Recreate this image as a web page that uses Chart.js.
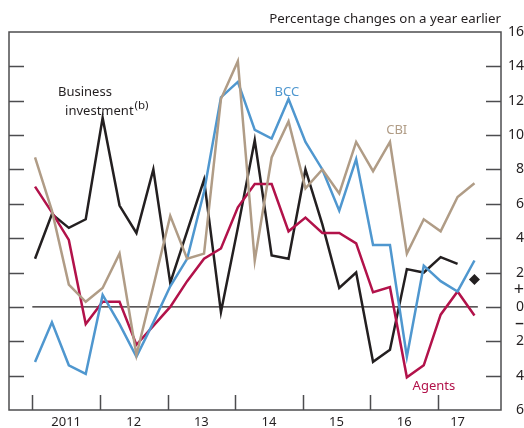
<!DOCTYPE html>
<html>
<head>
<meta charset="utf-8">
<script src="https://cdn.jsdelivr.net/npm/chart.js@4.4.0/dist/chart.umd.min.js"></script>
<style>
  html, body { margin: 0; padding: 0; background: #fff; }
</style>
</head>
<body>
<canvas id="chart" width="524" height="428"></canvas>
<script>
// quarterly data, 2011 Q1 to 2017 Q3 (index 0 = 2011 Q1)
var quarters = ['2011 Q1','2011 Q2','2011 Q3','2011 Q4','2012 Q1','2012 Q2','2012 Q3','2012 Q4',
  '2013 Q1','2013 Q2','2013 Q3','2013 Q4','2014 Q1','2014 Q2','2014 Q3','2014 Q4',
  '2015 Q1','2015 Q2','2015 Q3','2015 Q4','2016 Q1','2016 Q2','2016 Q3','2016 Q4',
  '2017 Q1','2017 Q2','2017 Q3'];

var investment = [2.8, 5.4, 4.6, 5.1, 11.0, 5.9, 4.3, 8.0, 1.4, 4.4, 7.4, -0.3, 4.6, 9.7,
  3.0, 2.8, 8.0, 4.8, 1.1, 2.0, -3.2, -2.5, 2.2, 2.0, 2.9, 2.5];
var bcc = [-3.2, -0.9, -3.4, -3.9, 0.7, -1.0, -2.9, -0.9, 1.2, 2.8, 6.7, 12.2, 13.1, 10.3,
  9.8, 12.1, 9.6, 8.0, 5.6, 8.6, 3.6, 3.6, -2.9, 2.4, 1.5, 0.9, 2.7];
var cbi = [8.7, 5.6, 1.3, 0.3, 1.1, 3.1, -2.8, 1.2, 5.3, 2.8, 3.1, 12.1, 14.3, 2.7, 8.7,
  10.8, 6.9, 8.0, 6.6, 9.6, 7.9, 9.6, 3.1, 5.1, 4.4, 6.4, 7.2];
var agents = [7.0, 5.5, 3.9, -1.0, 0.3, 0.3, -2.2, -1.1, 0.0, 1.5, 2.8, 3.4, 5.8, 7.15,
  7.15, 4.4, 5.2, 4.3, 4.3, 3.7, 0.85, 1.15, -4.1, -3.4, -0.45, 0.9, -0.5];
// latest single estimate (diamond), 2017 Q3
var diamond = [{ q: 26, v: 1.6 }];

var yearLabels = ['2011', '12', '13', '14', '15', '16', '17'];
var yTicks = [16, 14, 12, 10, 8, 6, 4, 2, 1, 0, -1, -2, -4, -6];

var TICK_SHIFT = -0.16;   // year boundary ticks sit just left of each Q1 point
var FONT = '"Noto Sans", sans-serif';
var TEXT = '#231f20';
var AXIS = '#4d4d4f';

function toPoints(arr) {
  return arr.map(function (v, i) { return { x: i, y: v }; });
}

// year label positions: middle of a full year, mean quarter for the partial one
var yearLabelPos = yearLabels.map(function (y, k) {
  var n = quarters.filter(function (q) { return q.indexOf(String(2011 + k)) === 0; }).length;
  return n === 4 ? 4 * k + 2 + TICK_SHIFT : 4 * k + (n - 1) / 2;
});

var framePlugin = {
  id: 'frame',
  beforeDatasetsDraw: function (chart) {
    var ctx = chart.ctx, x = chart.scales.x, y = chart.scales.y;
    ctx.save();
    ctx.strokeStyle = TEXT;
    ctx.lineWidth = 1.2;
    ctx.beginPath();
    ctx.moveTo(x.getPixelForValue(TICK_SHIFT), y.getPixelForValue(0));
    ctx.lineTo(x.getPixelForValue(26.2), y.getPixelForValue(0));
    ctx.stroke();
    ctx.restore();
  },
  afterDraw: function (chart) {
    var ctx = chart.ctx, a = chart.chartArea, x = chart.scales.x, y = chart.scales.y;
    ctx.save();
    ctx.strokeStyle = AXIS;
    ctx.lineWidth = 1.5;
    ctx.strokeRect(a.left, a.top, a.right - a.left, a.bottom - a.top);
    ctx.beginPath();
    for (var k = 0; k < yearLabels.length; k++) {
      var px = Math.round(x.getPixelForValue(4 * k + TICK_SHIFT)) + 0.5;
      ctx.moveTo(px, a.bottom);
      ctx.lineTo(px, a.bottom - 15);
    }
    for (var v = -4; v <= 14; v += 2) {
      var py = Math.round(y.getPixelForValue(v)) + 0.5;
      ctx.moveTo(a.left, py);
      ctx.lineTo(a.left + 15, py);
      ctx.moveTo(a.right, py);
      ctx.lineTo(a.right - 15, py);
    }
    ctx.stroke();

    // texts
    ctx.textBaseline = 'middle';
    ctx.font = '13.3px ' + FONT;
    ctx.fillStyle = TEXT;
    ctx.textAlign = 'right';
    ctx.fillText('Percentage changes on a year earlier', a.right, 19);

    ctx.font = '13px ' + FONT;
    ctx.textAlign = 'left';
    ctx.fillText('Business', x.getPixelForValue(1.36), y.getPixelForValue(12.5));
    var ix = x.getPixelForValue(1.78), iy = y.getPixelForValue(11.4);
    ctx.fillText('investment', ix, iy);
    var w = ctx.measureText('investment').width;
    ctx.font = '11.5px ' + FONT;
    ctx.fillText('(b)', ix + w + 1, iy - 5);

    ctx.font = '13px ' + FONT;
    ctx.textAlign = 'center';
    ctx.fillStyle = '#4f97cf';
    ctx.fillText('BCC', x.getPixelForValue(14.9), y.getPixelForValue(12.5));
    ctx.fillStyle = '#b09c86';
    ctx.fillText('CBI', x.getPixelForValue(21.4), y.getPixelForValue(10.3));
    ctx.fillStyle = '#b2124a';
    ctx.fillText('Agents', x.getPixelForValue(23.6), y.getPixelForValue(-4.6));
    ctx.restore();
  }
};

function lineSet(label, arr, color) {
  return {
    label: label,
    data: toPoints(arr),
    borderColor: color,
    borderWidth: 2.5,
    pointRadius: 0,
    tension: 0,
    fill: false
  };
}

new Chart(document.getElementById('chart').getContext('2d'), {
  type: 'line',
  data: {
    datasets: [
      lineSet('CBI', cbi, '#b09c86'),
      lineSet('BCC', bcc, '#4f97cf'),
      lineSet('Agents', agents, '#b2124a'),
      lineSet('Business investment', investment, '#231f20'),
      {
        type: 'scatter',
        label: 'Estimate',
        data: diamond.map(function (d) { return { x: d.q, y: d.v }; }),
        pointStyle: 'rectRot',
        pointRadius: 5.5,
        backgroundColor: '#231f20',
        borderColor: '#231f20',
        borderWidth: 0
      }
    ]
  },
  options: {
    responsive: false,
    animation: false,
    layout: { padding: { left: 9, top: 32, right: 0, bottom: 0 } },
    plugins: { legend: { display: false }, tooltip: { enabled: false } },
    scales: {
      x: {
        type: 'linear',
        min: -1.54,
        max: 27.57,
        grid: { display: false, drawTicks: false },
        border: { display: false },
        afterBuildTicks: function (s) {
          s.ticks = yearLabelPos.map(function (p) { return { value: p }; });
        },
        afterFit: function (s) { s.height = 18; },
        ticks: {
          autoSkip: false,
          maxRotation: 0,
          padding: 4,
          color: TEXT,
          font: { family: FONT, size: 13 },
          callback: function (v, i) { return yearLabels[i]; }
        }
      },
      y: {
        position: 'right',
        min: -6,
        max: 16,
        grid: { display: false, drawTicks: false },
        border: { display: false },
        afterBuildTicks: function (s) {
          s.ticks = yTicks.map(function (v) { return { value: v }; });
        },
        afterFit: function (s) { s.width = 23; },
        ticks: {
          autoSkip: false,
          padding: 5,
          crossAlign: 'far',
          color: TEXT,
          font: function (c) {
            var sign = c.tick && Math.abs(c.tick.value) === 1;
            return { family: FONT, size: sign ? 18 : 14 };
          },
          callback: function (v) {
            if (v === 1) return '+';
            if (v === -1) return '\u2013';
            return String(Math.abs(v));
          }
        }
      }
    }
  },
  plugins: [framePlugin]
});
</script>
</body>
</html>
